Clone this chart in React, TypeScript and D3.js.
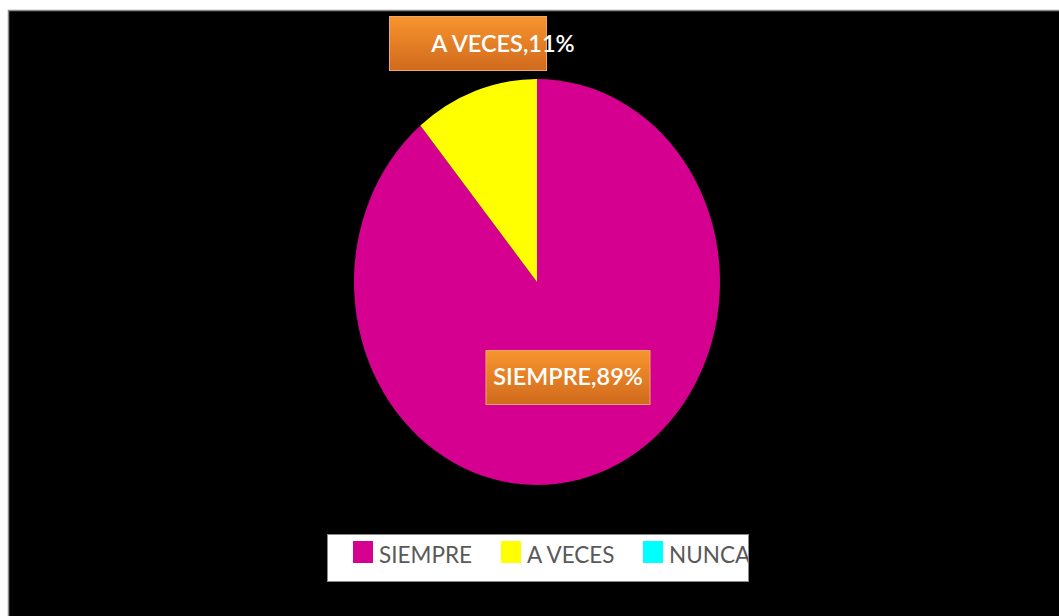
import { useEffect, useRef } from 'react'
import * as d3 from 'd3'

const categories = ['SIEMPRE', 'A VECES', 'NUNCA']
const values = [89, 11, 0]
const colors = ['#D5008F', '#FFFF00', '#00FFFF']

export default function App() {
  const svgRef = useRef<SVGSVGElement>(null)

  useEffect(() => {
    if (!svgRef.current) return
    const width = 1059
    const height = 616
    const svg = d3.select(svgRef.current)
    svg.selectAll('*').remove()

    const font = 'Lato, Calibri, "Open Sans", sans-serif'

    // fondo del gráfico
    svg.append('rect').attr('x', 0).attr('y', 0).attr('width', width).attr('height', height).attr('fill', '#fff')
    svg.append('rect')
      .attr('x', 8.5).attr('y', 10.5)
      .attr('width', width).attr('height', height)
      .attr('fill', '#000').attr('stroke', '#8a8a8a').attr('stroke-width', 1.5)

    const cx = 537
    const cy = 282
    const rx = 183
    const ry = 203

    const pie = d3.pie<number>().sort(null).value(d => d)
    const arcs = pie(values)
    const arc = d3.arc<d3.PieArcDatum<number>>().innerRadius(0).outerRadius(rx)

    const g = svg.append('g')
      .attr('transform', `translate(${cx},${cy}) scale(1,${ry / rx})`)

    g.selectAll('path')
      .data(arcs.filter(d => d.value > 0))
      .join('path')
      .attr('d', arc)
      .attr('fill', d => colors[d.index])

    // gradiente de las etiquetas
    const defs = svg.append('defs')
    const grad = defs.append('linearGradient').attr('id', 'lblGrad')
      .attr('x1', 0).attr('y1', 0).attr('x2', 0).attr('y2', 1)
    grad.append('stop').attr('offset', '0%').attr('stop-color', '#F8942E')
    grad.append('stop').attr('offset', '100%').attr('stop-color', '#D06A1D')

    // etiquetas: posición a partir del centroide, con desplazamiento manual
    const labelArc = d3.arc<d3.PieArcDatum<number>>().innerRadius(0).outerRadius(rx)
    const labelOffsets: Record<number, [number, number]> = {
      0: [0, 0],
      1: [-38, -143],
    }
    const boxes: Record<number, { w: number; h: number; tx: number }> = {
      0: { w: 164, h: 54, tx: 0 },
      1: { w: 157, h: 54, tx: 35 },
    }

    arcs.filter(d => d.value > 0).forEach(d => {
      const [px, py] = labelArc.centroid(d)
      const [ox, oy] = labelOffsets[d.index]
      const x = cx + px + ox
      const y = cy + py * (ry / rx) + oy
      const b = boxes[d.index]
      svg.append('rect')
        .attr('x', x - b.w / 2).attr('y', y - b.h / 2)
        .attr('width', b.w).attr('height', b.h)
        .attr('fill', 'url(#lblGrad)')
        .attr('stroke', '#F4A56A').attr('stroke-width', 1)
      svg.append('text')
        .attr('x', x + b.tx).attr('y', y + 8)
        .attr('text-anchor', 'middle')
        .attr('font-family', font)
        .attr('font-size', 23.5)
        .attr('font-weight', 600)
        .attr('fill', '#fff')
        .text(`${categories[d.index]},${d.value}%`)
    })

    // leyenda (recortada al recuadro, como en el original)
    defs.append('clipPath').attr('id', 'legClip')
      .append('rect').attr('x', 327).attr('y', 534).attr('width', 421).attr('height', 48)

    const legend = svg.append('g')
    legend.append('rect')
      .attr('x', 327.5).attr('y', 534.5)
      .attr('width', 421).attr('height', 47)
      .attr('fill', '#fff').attr('stroke', '#8a8a8a').attr('stroke-width', 1)

    const items = legend.append('g').attr('clip-path', 'url(#legClip)')
    const legendX = [353, 501, 643]
    categories.forEach((c, i) => {
      items.append('rect')
        .attr('x', legendX[i]).attr('y', 541)
        .attr('width', 20).attr('height', 22)
        .attr('fill', colors[i])
      items.append('text')
        .attr('x', legendX[i] + 26).attr('y', 563)
        .attr('font-family', font)
        .attr('font-size', 22.5)
        .attr('fill', '#595959')
        .text(c)
    })
  }, [])

  return (
    <svg
      ref={svgRef}
      width={1059}
      height={616}
      style={{ position: 'absolute', left: 0, top: 0, display: 'block' }}
    />
  )
}
